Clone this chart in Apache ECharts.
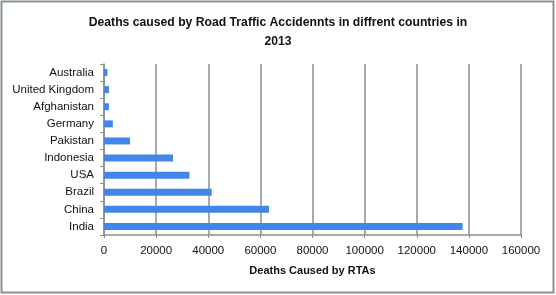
<!DOCTYPE html>
<html>
<head>
<meta charset="utf-8">
<script src="https://cdn.jsdelivr.net/npm/echarts@6/dist/echarts.min.js"></script>
<style>
html,body{margin:0;padding:0;background:#fff;}
#c{width:556px;height:295px;}
</style>
</head>
<body>
<div id="c"></div>
<script>
const categories = ["India","China","Brazil","USA","Indonesia","Pakistan","Germany","Afghanistan","United Kingdom","Australia"];
const deaths = [137600,63300,41300,32800,26500,10000,3400,1900,1900,1300];
const xTicks = {min:0, max:160000, interval:20000};
const titleText = "Deaths caused by Road Traffic Accidennts in diffrent countries in\n2013";
const xName = "Deaths Caused by RTAs";

const FONT = "'Liberation Sans', Arial, sans-serif";
const chart = echarts.init(document.getElementById('c'), null, {renderer:'canvas'});
chart.setOption({
  animation:false,
  title:{
    text:titleText, left:'center', top:8,
    textStyle:{fontFamily:FONT, fontWeight:'bold', fontSize:12.2, color:'#111', lineHeight:19}
  },
  graphic:[{type:'rect', shape:{x:1.5,y:1.5,width:552,height:291}, style:{fill:'none', stroke:'#86918f', lineWidth:2}}],
  grid:{left:104, right:35, top:64, bottom:60, containLabel:false},
  xAxis:{
    type:'value', min:xTicks.min, max:xTicks.max, interval:xTicks.interval,
    name:xName, nameLocation:'middle', nameGap:30,
    nameTextStyle:{fontFamily:FONT, fontWeight:'bold', fontSize:11, color:'#111'},
    axisLine:{show:true, lineStyle:{color:'#86918f', width:1.5}},
    axisTick:{show:true, length:3, lineStyle:{color:'#86918f'}},
    axisLabel:{fontFamily:FONT, fontSize:11.5, color:'#111', margin:10, formatter:function(v){return String(v);}},
    splitLine:{show:true, lineStyle:{color:'#86918f', width:1.5}}
  },
  yAxis:{
    type:'category', data:categories,
    axisLine:{show:true, lineStyle:{color:'#86918f', width:1.5}},
    axisTick:{show:true, length:4, lineStyle:{color:'#86918f'}},
    axisLabel:{fontFamily:FONT, fontSize:11.5, color:'#111', margin:10}
  },
  series:[{type:'bar', data:deaths, barWidth:7, itemStyle:{color:'#4287e8'}}]
});
</script>
</body>
</html>
